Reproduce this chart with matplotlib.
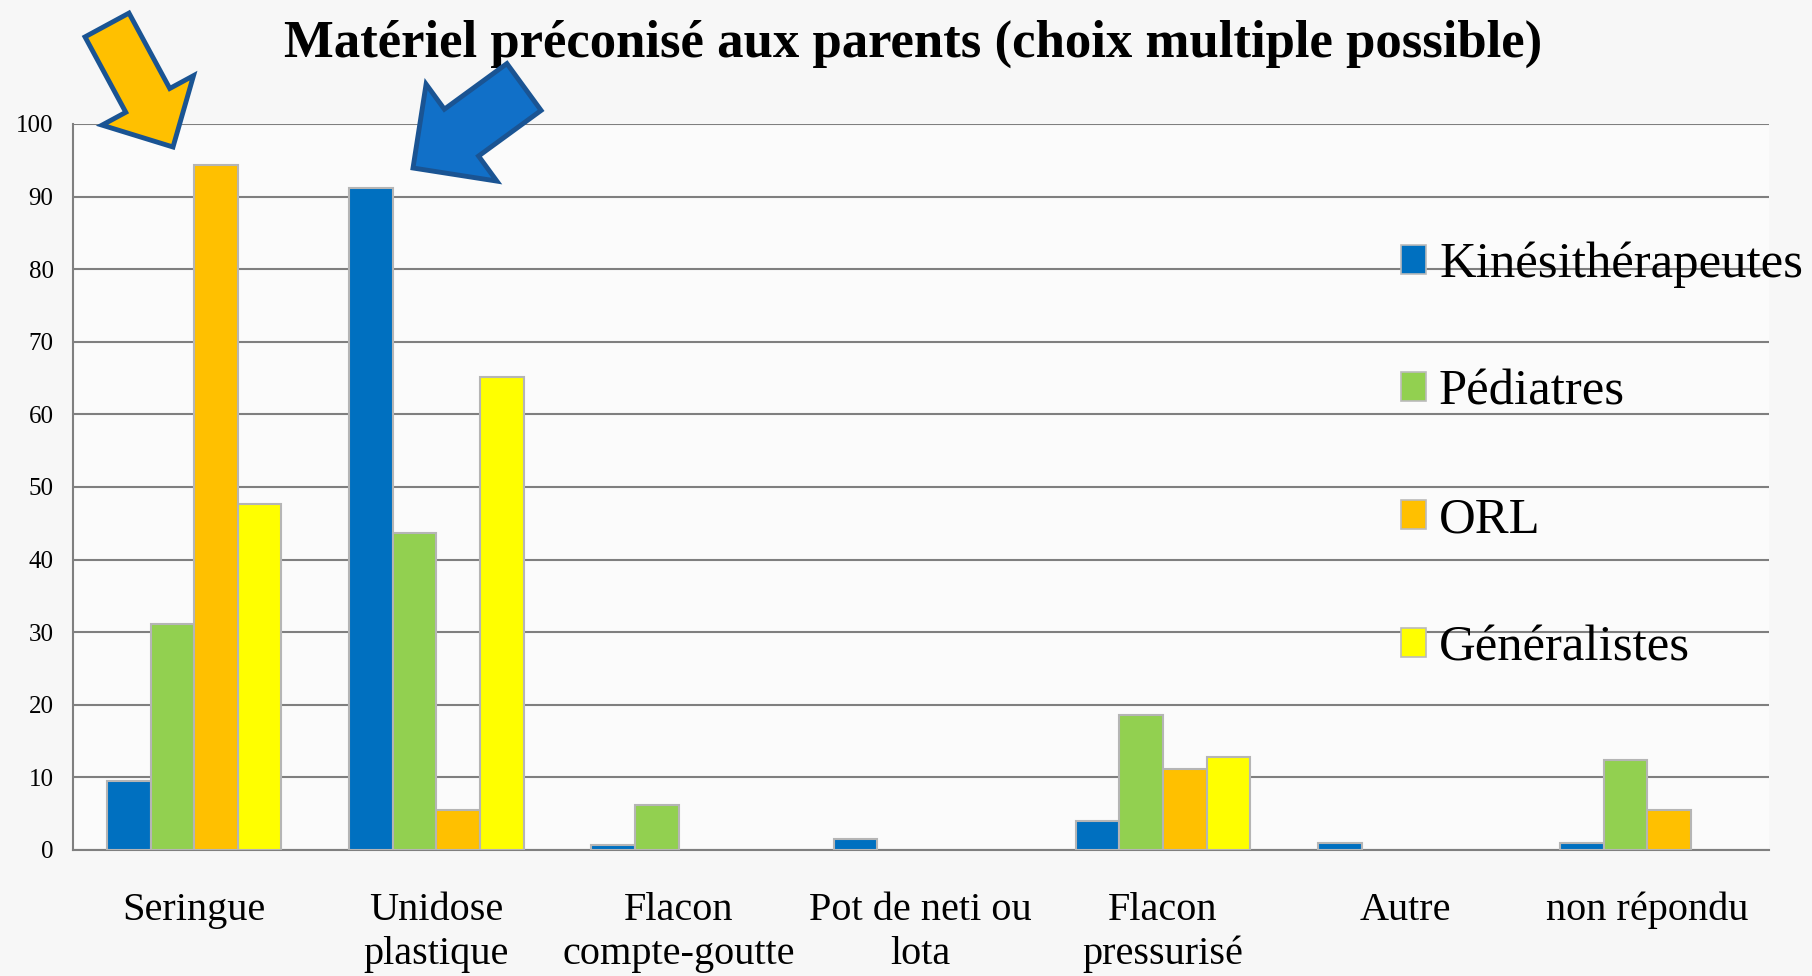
import matplotlib
matplotlib.use("Agg")
import matplotlib.pyplot as plt
import matplotlib.patches as mpatches
import numpy as np

# ---------------------------------------------------------------------------
# Data
# ---------------------------------------------------------------------------
categories = ["Seringue", "Unidose\nplastique", "Flacon\ncompte-goutte",
              "Pot de neti ou\nlota", "Flacon\npressurisé", "Autre",
              "non répondu"]
series = ["Kinésithérapeutes", "Pédiatres", "ORL", "Généralistes"]
kine = [9.5, 91.2, 0.7, 1.5, 4.0, 1.0, 1.0]
pedia = [31.1, 43.6, 6.2, 0, 18.6, 0, 12.4]
orl = [94.3, 5.5, 0, 0, 11.1, 0, 5.5]
gene = [47.7, 65.2, 0, 0, 12.8, 0, 0]
yticks = [0, 10, 20, 30, 40, 50, 60, 70, 80, 90, 100]

colors = ["#0070C0", "#92D050", "#FFC000", "#FFFF00"]
SERIF = ["Liberation Serif", "DejaVu Serif"]

# ---------------------------------------------------------------------------
# Figure
# ---------------------------------------------------------------------------
fig = plt.figure(figsize=(18.12, 9.76), dpi=100)
fig.patch.set_facecolor("#f7f7f7")
ax = fig.add_axes([0.0403, 0.1291, 0.9357, 0.7439])
ax.set_facecolor("#fbfbfb")

x = np.arange(len(categories))
w = 0.18
for i, (vals, name) in enumerate(zip([kine, pedia, orl, gene], series)):
    lws = [1.5 if v > 0 else 0 for v in vals]
    ax.bar(x + (i - 1.5) * w, vals, w, color=colors[i], label=name,
           edgecolor="#b5b5b5", linewidth=lws, zorder=3)

ax.set_xlim(-0.5, len(categories) - 0.5)
ax.set_ylim(0, 100)
ax.set_yticks(yticks)
ax.set_yticklabels([str(v) for v in yticks], family=SERIF, fontsize=18)
ax.set_xticks(x)
ax.set_xticklabels(categories, family=SERIF, fontsize=29, linespacing=1.25)
ax.tick_params(axis="both", length=0)
ax.tick_params(axis="x", pad=30)
ax.tick_params(axis="y", pad=14)
ax.grid(axis="y", color="#7f7f7f", lw=1.5, zorder=1)
for s in ["top", "right"]:
    ax.spines[s].set_visible(False)
for s in ["left", "bottom"]:
    ax.spines[s].set_color("#7f7f7f")
    ax.spines[s].set_linewidth(1.5)

# legend over the right part of the grid
leg = fig.legend(loc="upper left", bbox_to_anchor=(0.762, 0.773),
                 frameon=False, prop={"family": SERIF, "size": 36.5},
                 handlelength=0.5, handleheight=0.5, handletextpad=0.25,
                 labelspacing=1.6, borderaxespad=0)
for h in leg.legend_handles:
    h.set_edgecolor("#bbbbbb")
    h.set_linewidth(1.2)

# title
fig.text(0.504, 0.955, "Matériel préconisé aux parents (choix multiple possible)",
         family=SERIF, fontsize=38, fontweight="bold", ha="center", va="center")

# ---------------------------------------------------------------------------
# Pointer arrows (pixel overlay)
# ---------------------------------------------------------------------------
over = fig.add_axes([0, 0, 1, 1], zorder=10)
over.set_xlim(0, 1812)
over.set_ylim(976, 0)
over.axis("off")

def pointer(tail, tip, width, head_width, head_length, fc):
    dx, dy = tip[0] - tail[0], tip[1] - tail[1]
    a = mpatches.FancyArrow(tail[0], tail[1], dx, dy, width=width,
                            head_width=head_width, head_length=head_length,
                            length_includes_head=True, facecolor=fc,
                            edgecolor="#1a5493", linewidth=3.5)
    over.add_patch(a)

pointer((107, 25), (173, 147), 50, 104, 53, "#FFC000")
pointer((524, 87), (413, 168), 58, 120, 60, "#1170C8")

fig.savefig("out.png", dpi=100, facecolor=fig.get_facecolor())
